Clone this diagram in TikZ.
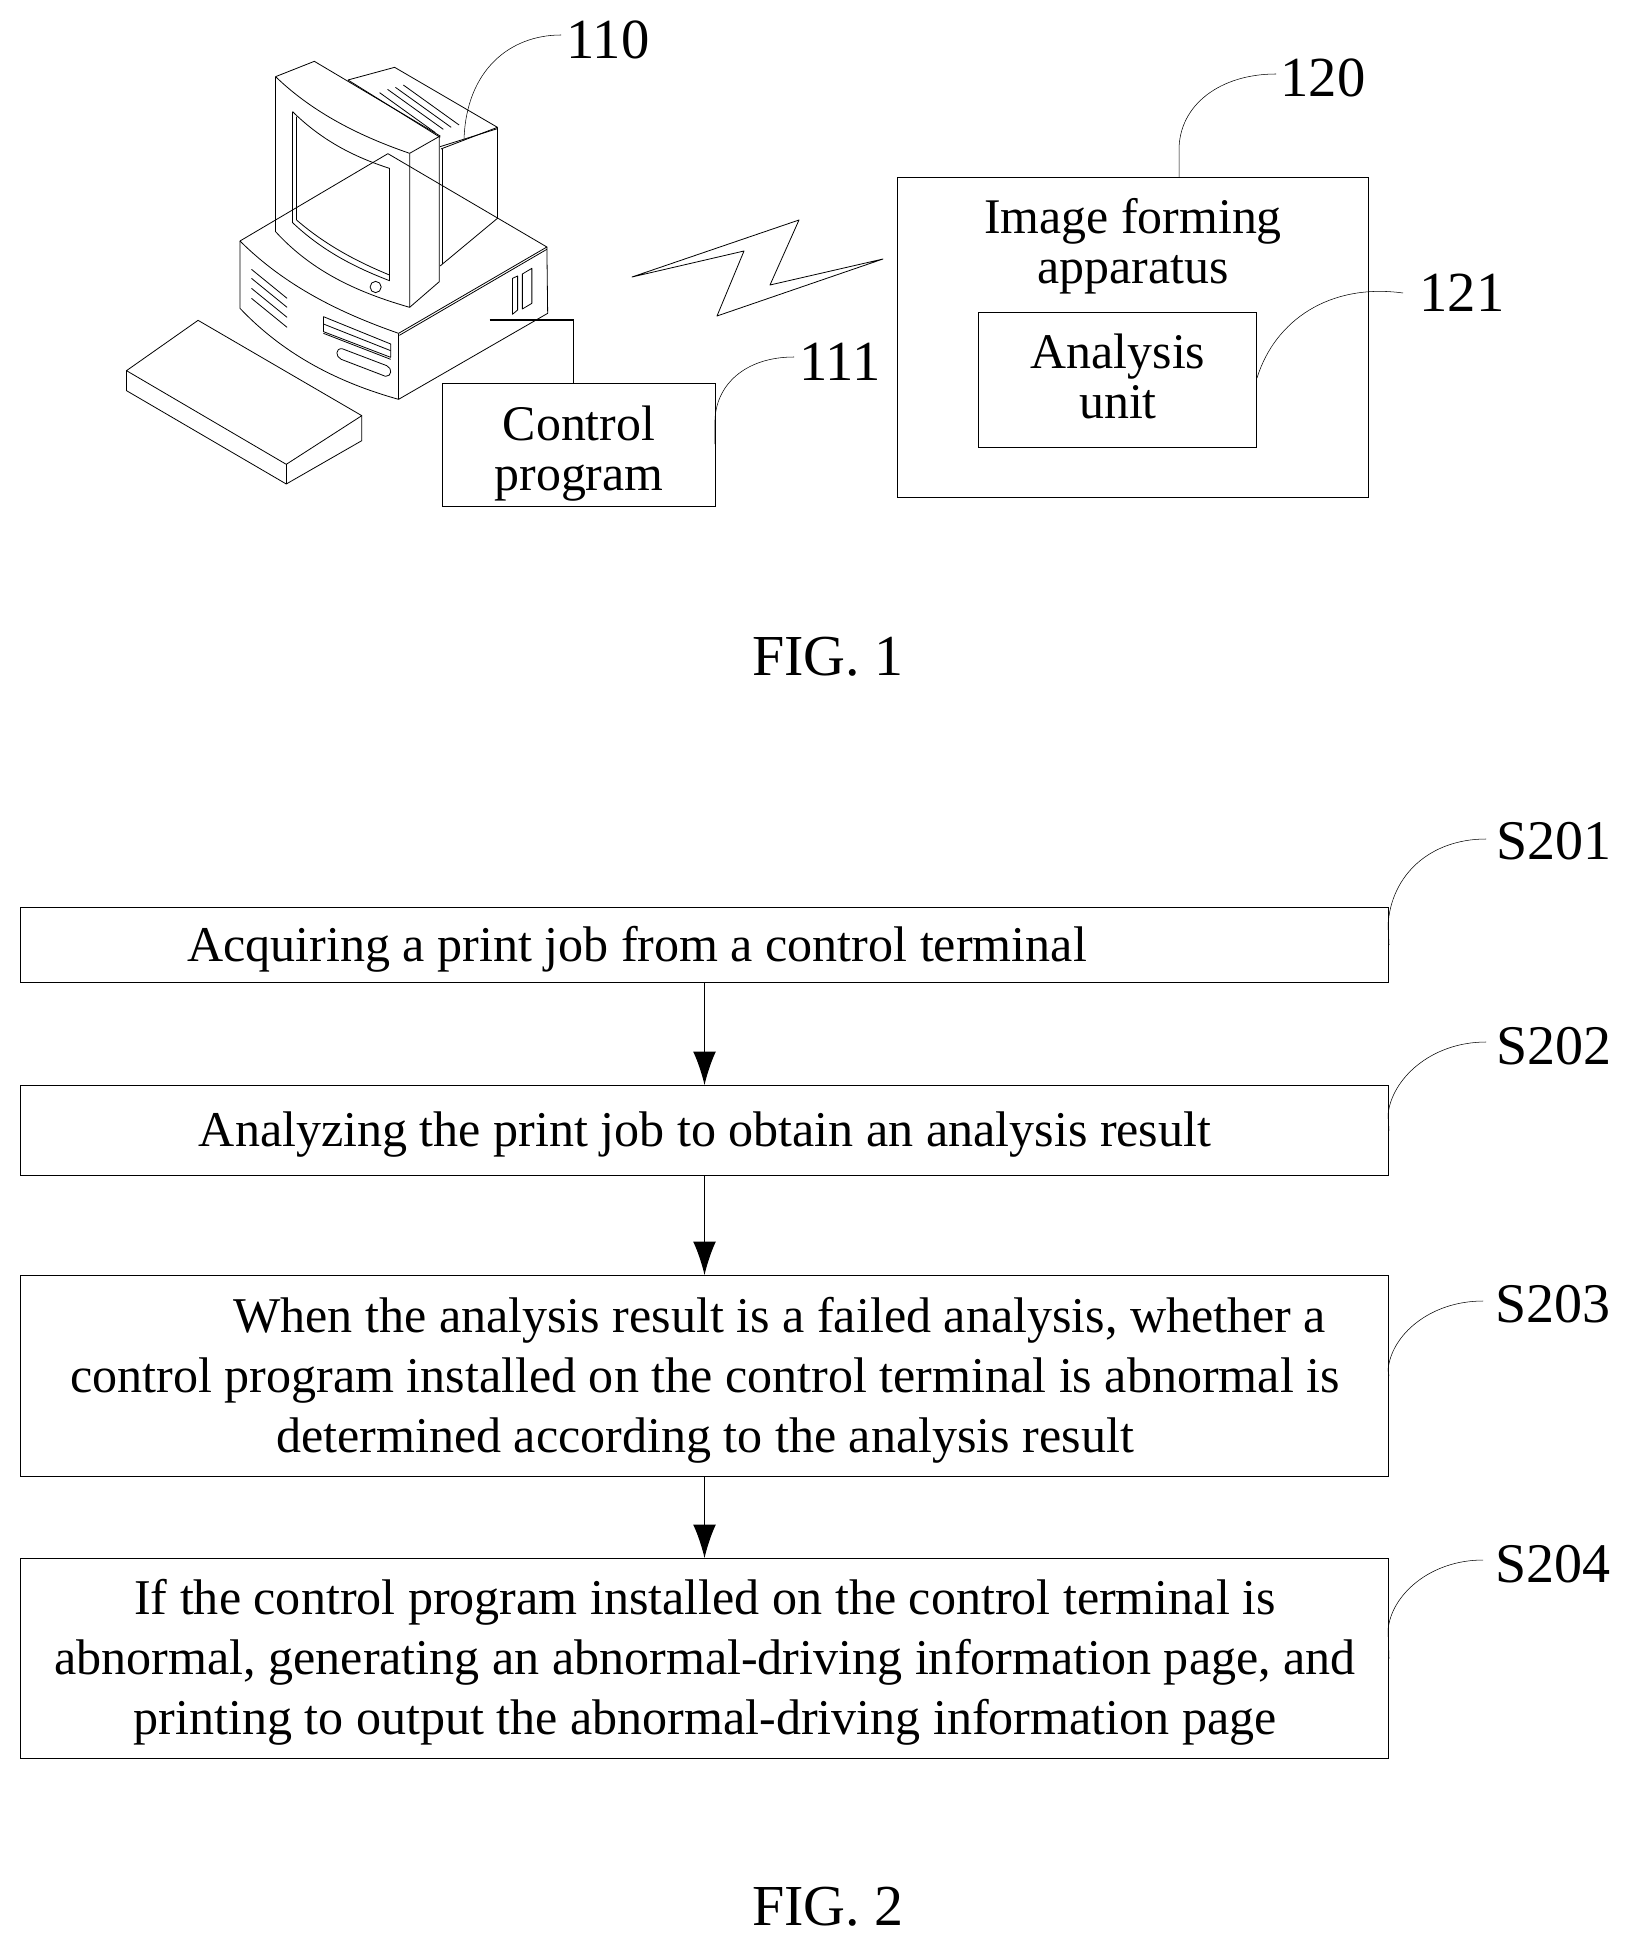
\documentclass[tikz,border=0pt]{standalone}
\usepackage{fontspec}
\setmainfont{Liberation Serif}
\usetikzlibrary{arrows.meta, positioning}

\newcommand{\px}{0.75pt}
\tikzset{
    framebox/.style={draw, line width=0.75pt, anchor=north west, inner sep=0pt},
    boxtext/.style={align=center, inner sep=0pt, font=\fontsize{37.4}{37.5}\selectfont},
    steptext/.style={align=center, inner sep=0pt, font=\fontsize{37.55}{45}\selectfont},
    reflabel/.style={inner sep=0pt, font=\fontsize{42.5}{44}\selectfont},
    figlabel/.style={inner sep=0pt, font=\fontsize{43.5}{45}\selectfont},
    leader/.style={draw, line width=0.4pt},
    pc/.style={draw, line width=0.6pt, line join=round},
    flow/.style={draw, line width=0.75pt, -{Latex[length=25pt,width=17pt]}},
}

\begin{document}
\begin{tikzpicture}[x=\px,y=-\px]
\useasboundingbox (0,0) rectangle (1632,1947);

% fig 1
\begin{scope}[shift={(100,0)}, x=0.2966pt, y=-0.25pt]
    % keyboard
    \draw[pc] (67,1112) -- (248,961) -- (662,1247) -- (471,1393) -- cycle;
    \draw[pc] (67,1112) -- (67,1172) -- (471,1452) -- (662,1322) -- (662,1247);
    \draw[pc] (471,1393) -- (471,1452);
    % base
    \draw[pc] (354,723) -- (728,461) -- (1130,741) -- (755,1000);
    \draw[pc] (354,723) .. controls (470,860) and (610,940) .. (755,1000);
    \draw[pc] (354,723) -- (354,925) .. controls (470,1070) and (610,1150) .. (755,1198);
    \draw[pc] (755,1000) -- (755,1198) -- (1132,940) -- (1130,741);
    \draw[pc] (757,1006) -- (1130,748);
    \foreach \y in {808,835,865,895}{
        \draw[pc] (383,\y) -- (473,\y+87);
    }
    \draw[pc] (565,950) -- (735,1032) -- (735,1072) -- (565,995) -- cycle;
    \draw[pc] (565,972) -- (735,1052);
    \draw[pc] (565,1000) -- (735,1078);
    \draw[pc] (612,1046) -- (725,1097) .. controls (740,1105) and (738,1130) .. (722,1129) -- (610,1078) .. controls (595,1070) and (595,1045) .. (612,1046);
    \draw[pc] (1043,835) -- (1056,828) -- (1056,930) -- (1043,943) -- cycle;
    \draw[pc] (1068,822) -- (1092,805) -- (1092,910) -- (1068,927) -- cycle;
    % back of monitor
    \draw[pc] (627,240) -- (745,202) -- (1005,382) -- (862,447);
    \draw[pc] (1005,382) -- (1005,655) -- (860,798);
    \draw[pc] (866,447) -- (866,792);
    \draw[pc] (860,440) -- (1005,386);
    \foreach \x/\y in {767/255,747/262,727/268,707/278}{
        \draw[pc] (\x,\y) -- (\x+141,\y+120);
    }
    % monitor
    \draw[pc] (444,230) -- (542,184) -- (860,408) -- (783,460);
    \draw[pc] (627,240) -- (860,412);
    \draw[pc] (444,230) -- (444,695) .. controls (540,820) and (660,880) .. (783,922) -- (783,460);
    \draw[pc] (444,230) .. controls (540,340) and (660,410) .. (783,460);
    \draw[pc] (783,922) -- (858,845) -- (858,408);
    \draw[pc] (487,335) -- (487,668) .. controls (560,750) and (640,800) .. (732,842) -- (732,505) .. controls (640,470) and (560,420) .. (487,335);
    \draw[pc] (497,350) -- (497,660) .. controls (570,735) and (650,785) .. (732,825);
    \draw[pc] (697,861) ellipse (14 and 17);
\end{scope}

\node[reflabel] (n110) at (608,40) {110};
\node[reflabel] (n120) at (1323,78) {120};
\node[reflabel] (n121) at (1462,293) {121};
\node[reflabel] (n111) at (840,362) {111};

\node[framebox, minimum width=273*\px, minimum height=123*\px] (control) at (442,383) {};
\node[boxtext] (controltext) at (579,453.5) {Control\\program};
\node[framebox, minimum width=471*\px, minimum height=320*\px] (apparatus) at (897,177) {};
\node[boxtext] (apptext) at (1133,246) {Image forming\\apparatus};
\node[framebox, minimum width=278*\px, minimum height=135*\px] (analysis) at (978,312) {};
\node[boxtext] (analysistext) at (1118,376.5) {Analysis\\unit};

\coordinate (pctap) at (489.5,320);
\coordinate (ctap) at (573.7,383);
\draw[line width=1pt] (pctap) -| (ctap);

% wireless mark
\draw[pc] (632,277) -- (799,220) -- (770,285) -- (883,259) -- (717,316) -- (744,251) -- cycle;

\coordinate (e110) at (561,35);
\coordinate (s110) at (464,140);
\coordinate (e120) at (1276,74);
\coordinate (s120) at (1179,177);
\coordinate (e121) at (1403,293);
\coordinate (s121) at (1257,378);
\coordinate (e111) at (794,357);
\coordinate (s111) at (715,444);
\draw[leader] (s110) .. controls (466,70) and (510,35) .. (e110);
\draw[leader] (s120) -- (1179,150) .. controls (1179,105) and (1220,74) .. (e120);
\draw[leader] (s121) .. controls (1275,320) and (1330,283) .. (e121);
\draw[leader] (s111) -- (715,420) .. controls (716,385) and (745,357) .. (e111);

\node[figlabel] (fig1) at (828,656.5) {FIG. 1};

% fig 2
\node[framebox, minimum width=1368*\px, minimum height=75*\px] (s1) at (20,907) {};
\node[framebox, minimum width=1368*\px, minimum height=90*\px] (s2) at (20,1085) {};
\node[framebox, minimum width=1368*\px, minimum height=201*\px] (s3) at (20,1275) {};
\node[framebox, minimum width=1368*\px, minimum height=200*\px] (s4) at (20,1558) {};

\node[steptext] (s1text) at (637,949.5) {Acquiring a print job from a control terminal};
\node[steptext] (s2text) at (705,1134.5) {Analyzing the print job to obtain an analysis result};
\node[steptext] (s3text) at (705,1380) {\hspace*{112pt}When the analysis result is a failed analysis, whether a\\control program installed on the control terminal is abnormal is\\determined according to the analysis result};
\node[steptext] (s4text) at (705,1662.5) {If the control program installed on the control terminal is\\abnormal, generating an abnormal-driving information page, and\\printing to output the abnormal-driving information page};

\draw[flow] (s1) -- (s2);
\draw[flow] (s2) -- (s3);
\draw[flow] (s3) -- (s4);

\foreach \i/\x/\y in {1/1554/841.5,2/1554/1046,3/1553/1304,4/1553/1564}{
    \node[reflabel, font=\fontsize{42}{44}\selectfont] (l\i) at (\x,\y) {S20\i};
}
\coordinate (e1) at (1486,839);
\coordinate (e2) at (1486,1042);
\coordinate (e3) at (1483,1301);
\coordinate (e4) at (1483,1560);
\draw[leader] (s1.east) -- (1388,925) .. controls (1391,875) and (1430,839) .. (e1);
\draw[leader] (s2.east) -- (1388,1115) .. controls (1391,1080) and (1430,1042) .. (e2);
\draw[leader] (s3.east) -- (1388,1370) .. controls (1391,1335) and (1430,1301) .. (e3);
\draw[leader] (s4.east) -- (1388,1630) .. controls (1391,1595) and (1430,1560) .. (e4);

\node[figlabel] (fig2) at (828,1906.5) {FIG. 2};
\end{tikzpicture}
\end{document}
